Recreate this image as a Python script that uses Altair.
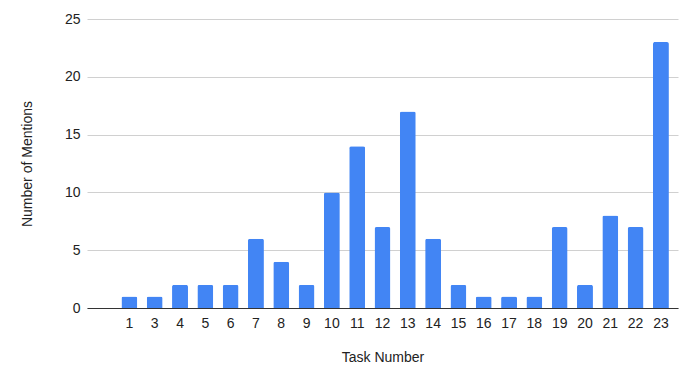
import altair as alt
import pandas as pd

tasks = ["1", "3", "4", "5", "6", "7", "8", "9", "10", "11", "12", "13",
         "14", "15", "16", "17", "18", "19", "20", "21", "22", "23"]
mentions = [1, 1, 2, 2, 2, 6, 4, 2, 10, 14, 7, 17, 6, 2, 1, 1, 1, 7, 2, 8, 7, 23]
y_ticks = [0, 5, 10, 15, 20, 25]

df = pd.DataFrame({"task": tasks, "mentions": mentions})
domain = [" "] + tasks

FONT = "Liberation Sans"

chart = alt.Chart(df).mark_bar(
    color="#4285F4", cornerRadiusTopLeft=2, cornerRadiusTopRight=2
).encode(
    x=alt.X("task:N", sort=domain,
            scale=alt.Scale(domain=domain, paddingInner=0.37, paddingOuter=0.36),
            axis=alt.Axis(title="Task Number", labelAngle=0, ticks=False,
                          domain=True, domainColor="#333333", domainWidth=1,
                          labelPadding=8, labelFontSize=14, labelColor="#222222",
                          titleFontSize=14, titleFontWeight="normal", titleColor="#222222",
                          titlePadding=20, labelFont=FONT, titleFont=FONT)),
    y=alt.Y("mentions:Q",
            scale=alt.Scale(domain=[0, 25], nice=False),
            axis=alt.Axis(title="Number of Mentions", values=y_ticks, ticks=False,
                          domain=False, grid=True, gridColor="#d0d0d0",
                          labelPadding=7, labelFontSize=14, labelColor="#222222",
                          titleFontSize=14, titleFontWeight="normal", titleColor="#222222",
                          titlePadding=30, labelFont=FONT, titleFont=FONT)),
).properties(
    width=591, height=289,
    autosize=alt.AutoSizeParams(type="none"),
    padding={"left": 79, "top": 11, "right": 10, "bottom": 60},
).configure_view(stroke=None)

chart.save("out.html", embed_options={"renderer": "svg", "actions": False})
